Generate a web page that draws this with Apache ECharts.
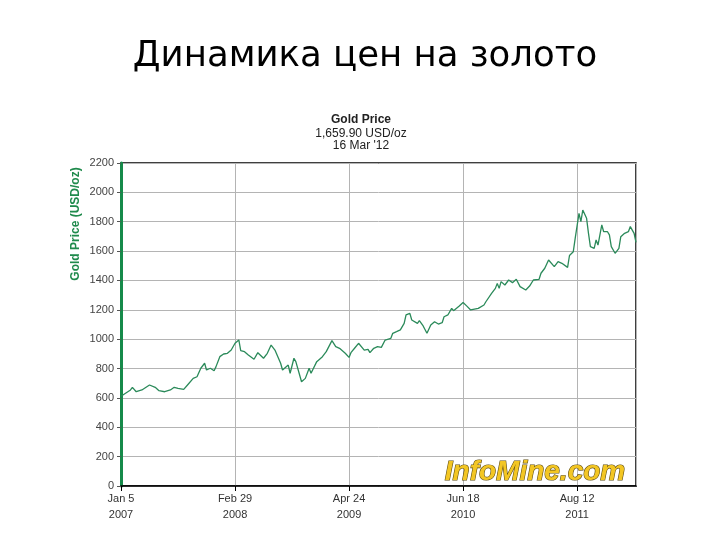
<!DOCTYPE html>
<html><head><meta charset="utf-8">
<script src="https://cdn.jsdelivr.net/npm/echarts@6/dist/echarts.min.js"></script>
<style>html,body{margin:0;padding:0;background:#fff}#c{width:720px;height:540px}</style>
</head><body><div id="c"></div>
<script>
// Week index since Jan 5 2007 (weekly data) and gold price in USD/oz
const weeks = [0,5,6,8,11,15,18,20,23,26,28,30,33,35,38,40,42,44,45,47,49,50,52,54,56,58,60,62,63,65,67,70,72,75,77,79,81,84,85,88,89,91,92,95,97,99,100,103,106,108,111,113,115,118,120,121,123,125,128,130,131,133,135,137,139,142,143,145,147,149,150,152,153,156,157,159,161,163,165,167,169,170,172,174,175,178,180,182,184,185,188,191,192,195,197,198,199,200,202,204,206,208,210,213,215,217,220,221,223,225,226,228,230,232,233,235,236,238,239,241,242,243,245,246,247,249,250,251,253,254,256,257,258,260,262,263,265,267,268,270,271];
const prices = [611,654,672,642,654,688,672,649,642,654,672,665,658,688,733,744,802,836,790,802,785,813,881,899,904,926,972,995,922,915,892,863,908,870,904,960,926,836,790,824,768,870,847,710,733,802,768,847,881,915,990,949,938,904,876,908,940,972,926,931,908,938,949,944,994,1006,1040,1051,1063,1108,1165,1176,1131,1108,1126,1090,1040,1097,1119,1103,1112,1153,1165,1210,1194,1226,1250,1225,1199,1188,1210,1233,1255,1312,1346,1380,1346,1392,1369,1403,1385,1408,1358,1335,1362,1403,1408,1449,1483,1539,1530,1494,1528,1517,1528,1489,1570,1596,1687,1857,1800,1880,1823,1721,1630,1619,1676,1641,1778,1732,1732,1710,1630,1585,1619,1698,1721,1732,1767,1721,1660];
const xTickLabels = ['Jan 5\n2007','Feb 29\n2008','Apr 24\n2009','Jun 18\n2010','Aug 12\n2011'];
const yTicks = [0,200,400,600,800,1000,1200,1400,1600,1800,2000,2200];

const data = weeks.map((w,i)=>[w,prices[i]]);
const chart = echarts.init(document.getElementById('c'));
chart.setOption({
  backgroundColor:'#fff',
  animation:false,
  title:[
    {text:'Динамика цен на золото',left:360,top:34,textAlign:'center',
     textStyle:{fontFamily:'DejaVu Sans',fontSize:35.5,fontWeight:'normal',color:'#000'}},
    {text:'Gold Price',left:356,top:109,textAlign:'center',
     textStyle:{fontFamily:'Liberation Sans',fontSize:12,fontWeight:'bold',color:'#222'}},
    {text:"1,659.90 USD/oz\n16 Mar '12",left:356,top:122,textAlign:'center',
     textStyle:{fontFamily:'Liberation Sans',fontSize:12,fontWeight:'normal',color:'#222',lineHeight:12.5}}
  ],
  grid:{left:121,right:84,top:163,bottom:54,show:true,borderColor:'#000',borderWidth:1.5,backgroundColor:'#fff'},
  xAxis:{type:'value',min:0,max:271,interval:60,
    axisLine:{lineStyle:{color:'#000',width:1.5}},
    axisTick:{show:true,length:5,lineStyle:{color:'#000'}},
    splitLine:{show:true,lineStyle:{color:'#b4b4b4',width:1}},
    axisLabel:{showMaxLabel:false,margin:5,color:'#333',fontFamily:'Liberation Sans',fontSize:11,lineHeight:16,
      formatter:v=>xTickLabels[Math.round(v/60)]||''}},
  yAxis:{type:'value',min:yTicks[0],max:yTicks[yTicks.length-1],interval:200,
    axisLine:{show:true,lineStyle:{color:'#168a4a',width:3}},
    axisTick:{show:true,length:4,lineStyle:{color:'#555'}},
    splitLine:{show:true,lineStyle:{color:'#b4b4b4',width:1}},
    axisLabel:{margin:7,color:'#444',fontFamily:'Liberation Sans',fontSize:11,formatter:v=>String(v)}},
  graphic:[
    {type:'text',x:76,y:224,rotation:Math.PI/2,
     style:{text:'Gold Price (USD/oz)',fill:'#1f8a4c',font:'bold 12px "Liberation Sans"',textAlign:'center',textVerticalAlign:'middle'}},
    {type:'text',x:535,y:472,z:10,
     style:{text:'InfoMine.com',font:'italic bold 28px "Liberation Sans"',textAlign:'center',textVerticalAlign:'middle',
       fill:'#f3c623',stroke:'#5e4c12',lineWidth:1.2}}
  ],
  series:[{type:'line',data:data,showSymbol:false,symbol:'none',
    lineStyle:{color:'#2b8a5a',width:1.3},z:5}]
});
</script></body></html>
